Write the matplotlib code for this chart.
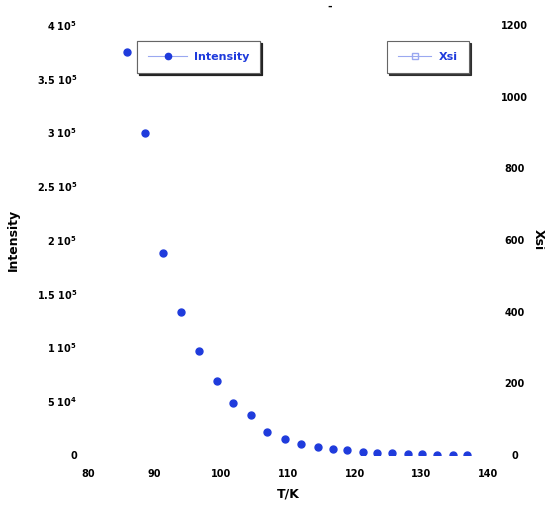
import matplotlib
matplotlib.use("Agg")
import matplotlib.pyplot as plt
from matplotlib.lines import Line2D

temperature = [85.85, 88.55, 91.25, 93.95, 96.7, 99.3, 101.7, 104.45, 106.9, 109.55,
               111.9, 114.45, 116.75, 118.85, 121.2, 123.35, 125.55, 128.0, 130.1,
               132.35, 134.7, 136.9]
intensity = [3.752e5, 2.993e5, 1.876e5, 1.33e5, 0.967e5, 0.691e5, 0.487e5, 0.375e5,
             0.217e5, 0.149e5, 0.102e5, 0.079e5, 0.054e5, 0.042e5, 0.031e5, 0.021e5,
             0.016e5, 0.009e5, 0.0065e5, 0.004e5, 0.002e5, 0.001e5]
xsi = []
xsi_t = []

x_ticks = [80, 90, 100, 110, 120, 130, 140]
y_ticks = [0, 0.5e5, 1e5, 1.5e5, 2e5, 2.5e5, 3e5, 3.5e5, 4e5]
y_tick_labels = ["0", r"$\mathbf{5\ 10^4}$", r"$\mathbf{1\ 10^5}$", r"$\mathbf{1.5\ 10^5}$",
                 r"$\mathbf{2\ 10^5}$", r"$\mathbf{2.5\ 10^5}$", r"$\mathbf{3\ 10^5}$",
                 r"$\mathbf{3.5\ 10^5}$", r"$\mathbf{4\ 10^5}$"]
y2_ticks = [0, 200, 400, 600, 800, 1000, 1200]

blue = "#1f3bdc"
light = "#9aa8f0"

fig = plt.figure(figsize=(5.45, 5.05), dpi=100)
ax = fig.add_axes([88/545, 1-455/505, 400/545, 430/505])
ax2 = ax.twinx()

ax.plot(temperature, intensity, 'o', color=blue, markersize=5, linestyle='none')
ax2.plot(xsi_t, xsi, 's', mfc='none', color=light, linestyle='-')

ax.set_xlim(80, 140)
ax.set_ylim(0, 4e5)
ax2.set_ylim(0, 1200)

for a in (ax, ax2):
    for s in a.spines.values():
        s.set_visible(False)
    a.tick_params(length=0)

ax.set_xticks(x_ticks)
ax.set_xticklabels([str(t) for t in x_ticks], fontsize=7, fontweight='bold')
ax.set_yticks(y_ticks)
ax.set_yticklabels(y_tick_labels, fontsize=7, fontweight='bold')
ax2.set_yticks(y2_ticks)
ax2.set_yticklabels([str(t) for t in y2_ticks], fontsize=7, fontweight='bold', ha='center')
ax.tick_params(axis='x', pad=10)
ax.tick_params(axis='y', pad=8)
ax2.tick_params(axis='y', pad=19)

ax.set_xlabel("T/K", fontsize=9, fontweight='bold', labelpad=6)
ax.set_ylabel("Intensity", fontsize=9, fontweight='bold')
ax.yaxis.set_label_coords(-0.17, 0.5)
ax2.set_ylabel("Xsi", fontsize=9, fontweight='bold', rotation=270, va='center')
ax2.yaxis.set_label_coords(1.125, 0.5)

fig.text(330/545, 1-7/505, "-", fontsize=8, fontweight='bold', ha='center', va='center')

h1 = Line2D([], [], color=light, lw=0.8, marker='o', markersize=4.5, mfc=blue, mec=blue)
h2 = Line2D([], [], color=light, lw=0.8, marker='s', markersize=4.5, mfc='none', mec=light)

shadow = {'ox': 1.5, 'oy': -1.5, 'color': '#222222', 'alpha': 0.9}
leg1 = ax.legend([h1], ["Intensity"], loc='upper left', bbox_to_anchor=(137/545, 1-41/505),
                 bbox_transform=fig.transFigure, fancybox=False, shadow=shadow,
                 prop={'weight': 'bold', 'size': 8}, labelcolor=blue, borderaxespad=0,
                 handlelength=3.5, borderpad=1.0, handletextpad=0.6)
leg1.get_frame().set_edgecolor('#666666')
leg1.get_frame().set_linewidth(0.8)
ax.add_artist(leg1)
leg2 = ax2.legend([h2], ["Xsi"], loc='upper left', bbox_to_anchor=(387/545, 1-41/505),
                  bbox_transform=fig.transFigure, fancybox=False, shadow=shadow,
                  prop={'weight': 'bold', 'size': 8}, labelcolor=blue, borderaxespad=0,
                  handlelength=3.0, borderpad=1.0, handletextpad=0.7)
leg2.get_frame().set_edgecolor('#666666')
leg2.get_frame().set_linewidth(0.8)

fig.savefig("out.png", dpi=100)
